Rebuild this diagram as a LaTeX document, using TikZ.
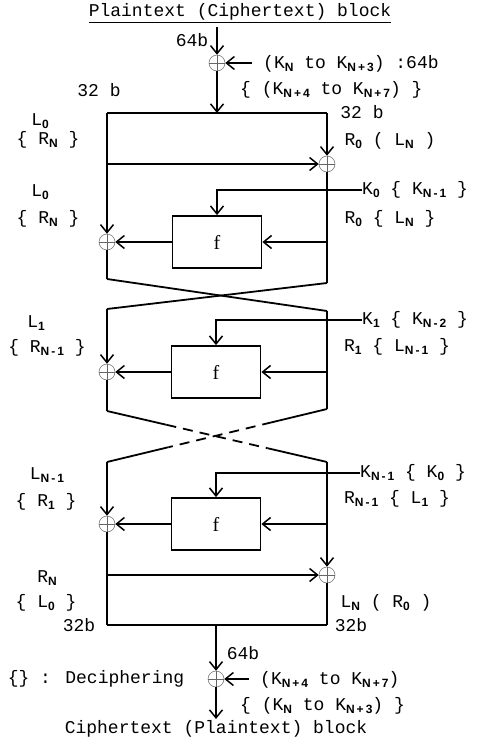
\documentclass[tikz,border=0pt]{standalone}
\usepackage{fontspec}
\setmainfont{Liberation Mono}
\newfontfamily\subfont{Liberation Sans}
\newfontfamily\ffont{Liberation Serif}
\usetikzlibrary{arrows.meta,calc}
\newcommand{\lo}[1]{\raisebox{-2.5pt}{\subfont\bfseries\fontsize{12}{12}\selectfont #1}}
\begin{document}
\begin{tikzpicture}[x=1pt,y=-1pt,
  wire/.style={line width=1.8pt},
  arr/.style={wire,-{Straight Barb[length=8pt,width=13pt,line width=1.5pt]}},
  xorg/.style={circle,draw=black!60,line width=0.5pt,minimum size=16pt,inner sep=0pt,
    path picture={\draw[line width=0.6pt] (path picture bounding box.north) -- (path picture bounding box.south) (path picture bounding box.west) -- (path picture bounding box.east);}},
  fbox/.style={draw,line width=1.8pt,minimum width=89pt,minimum height=52pt,font=\ffont\fontsize{20}{20}\selectfont},
  lbl/.style={inner sep=0pt,font=\fontsize{18}{20}\selectfont},
  dsh/.style={wire,dash pattern=on 10pt off 7pt}
]
\useasboundingbox (0,0) rectangle (488,744);

% top
\node[lbl] (title) at (240,13) {\underline{Plaintext (Ciphertext) block}};
\coordinate (in) at (217,27);
\node[xorg] (xt) at (217,63) {};
\draw[arr] (in) -- (xt);
\node[lbl] (b64t) at (192,40) {64b};
\node[lbl,anchor=west] (kt1) at (263,64) {(K\lo{N} to K\lo{N\,+\,3}) :64b};
\coordinate (ktS) at (252,63);
\draw[arr] (ktS) -- (xt);
\node[lbl,anchor=west] (kt2) at (240,90) {\{ (K\lo{N\,+\,4} to K\lo{N\,+\,7}) \}};
\node[lbl] (b32a) at (99,90) {32 b};
\node[lbl] (b32b) at (362,112) {32 b};

\coordinate (TL) at (107,113);
\coordinate (TR) at (327,113);
\coordinate (TM) at (217,113);
\draw[arr] (xt) -- (TM);
\draw[wire] (TL) -- (TR);

% round 0
\node[xorg] (xr0) at (327,164) {};
\node[xorg] (xl1) at (107,242) {};
\draw[arr] (TR) -- (xr0);
\draw[arr] (TL) -- (xl1);
\coordinate (hl0) at (107,164);
\draw[arr] (hl0) -- (xr0);
\node[fbox] (f1) at (217,242) {f};
\node[lbl,anchor=west] (k0) at (362,190) {K\lo{0} \{ K\lo{N\,-\,1} \}};
\draw[arr] (k0.west) -| (f1.north);
\coordinate (r1) at (327,242);
\draw[arr] (r1) -- (f1);
\draw[arr] (f1) -- (xl1);
\coordinate (BL0) at (107,279);
\coordinate (BR0) at (327,283);
\draw[wire] (xl1) -- (BL0);
\draw[wire] (xr0) -- (BR0);

\node[lbl] (la) at (40,121) {L\lo{0}};
\node[lbl] (lb) at (48,140) {\{ R\lo{N} \}};
\node[lbl] (lc) at (390,141) {R\lo{0} ( L\lo{N} )};
\node[lbl] (ld) at (40,192) {L\lo{0}};
\node[lbl] (le) at (48,219) {\{ R\lo{N} \}};
\node[lbl] (lf) at (390,219) {R\lo{0} \{ L\lo{N} \}};

% round 1
\coordinate (TL1) at (107,309);
\coordinate (TR1) at (327,311);
\draw[wire] (BL0) -- (TR1);
\draw[wire] (BR0) -- (TL1);
\node[xorg] (xl2) at (107,372) {};
\node[fbox] (f2) at (216,372) {f};
\draw[arr] (TL1) -- (xl2);
\coordinate (BL1) at (107,411);
\coordinate (BR1) at (327,409);
\draw[wire] (xl2) -- (BL1);
\draw[wire] (TR1) -- (BR1);
\node[lbl,anchor=west] (k1) at (362,320) {K\lo{1} \{ K\lo{N\,-\,2} \}};
\draw[arr] (k1.west) -| (f2.north);
\coordinate (r2) at (327,372);
\draw[arr] (r2) -- (f2);
\draw[arr] (f2) -- (xl2);
\node[lbl] (lg) at (36,323) {L\lo{1}};
\node[lbl] (lh) at (47,348) {\{ R\lo{N\,-\,1} \}};
\node[lbl] (li) at (397,347) {R\lo{1} \{ L\lo{N\,-\,1} \}};

% dashed crossing
\coordinate (TL2) at (107,462);
\coordinate (TR2) at (327,462);
\draw[wire] (BL1) -- ($(BL1)!.27!(TR2)$);
\draw[dsh] ($(BL1)!.27!(TR2)$) -- ($(BL1)!.73!(TR2)$);
\draw[wire] ($(BL1)!.73!(TR2)$) -- (TR2);
\draw[wire] (BR1) -- ($(BR1)!.25!(TL2)$);
\draw[dsh] ($(BR1)!.25!(TL2)$) -- ($(BR1)!.72!(TL2)$);
\draw[wire] ($(BR1)!.72!(TL2)$) -- (TL2);

% round N-1
\node[xorg] (xl3) at (107,524) {};
\node[fbox] (f3) at (216,524) {f};
\node[xorg] (xr3) at (327,575) {};
\coordinate (BL3) at (107,625);
\coordinate (BR3) at (327,625);
\coordinate (BM) at (216,625);
\draw[arr] (TL2) -- (xl3);
\draw[wire] (xl3) -- (BL3);
\draw[arr] (TR2) -- (xr3);
\draw[wire] (xr3) -- (BR3);
\draw[wire] (BL3) -- (BR3);
\coordinate (hl3) at (107,575);
\draw[arr] (hl3) -- (xr3);
\coordinate (r3) at (327,524);
\draw[arr] (r3) -- (f3);
\draw[arr] (f3) -- (xl3);
\node[lbl,anchor=west] (kn) at (360,473) {K\lo{N\,-\,1} \{ K\lo{0} \}};
\draw[arr] (kn.west) -| (f3.north);
\node[lbl] (lj) at (47,475) {L\lo{N\,-\,1}};
\node[lbl] (lk) at (46,502) {\{ R\lo{1} \}};
\node[lbl] (ll) at (397,499) {R\lo{N\,-\,1} \{ L\lo{1} \}};
\node[lbl] (lm) at (47,578) {R\lo{N}};
\node[lbl] (ln) at (46,603) {\{ L\lo{0} \}};
\node[lbl] (lo) at (386,603) {L\lo{N} ( R\lo{0} )};
\node[lbl] (b32c) at (79,625) {32b};
\node[lbl] (b32d) at (351,625) {32b};

% bottom
\node[xorg] (xb) at (216,679) {};
\draw[arr] (BM) -- (xb);
\coordinate (kb) at (249,679);
\draw[arr] (kb) -- (xb);
\coordinate (out) at (216,719);
\draw[arr] (xb) -- (out);
\node[lbl] (b64b) at (243,653) {64b};
\node[lbl] (dec) at (96,679) {\{\} : Deciphering};
\node[lbl,anchor=west] (kb1) at (260,680) {(K\lo{N\,+\,4} to K\lo{N\,+\,7})};
\node[lbl,anchor=west] (kb2) at (240,706) {\{ (K\lo{N} to K\lo{N\,+\,3}) \}};
\node[lbl] (outt) at (216,729) {Ciphertext (Plaintext) block};
\end{tikzpicture}
\end{document}
